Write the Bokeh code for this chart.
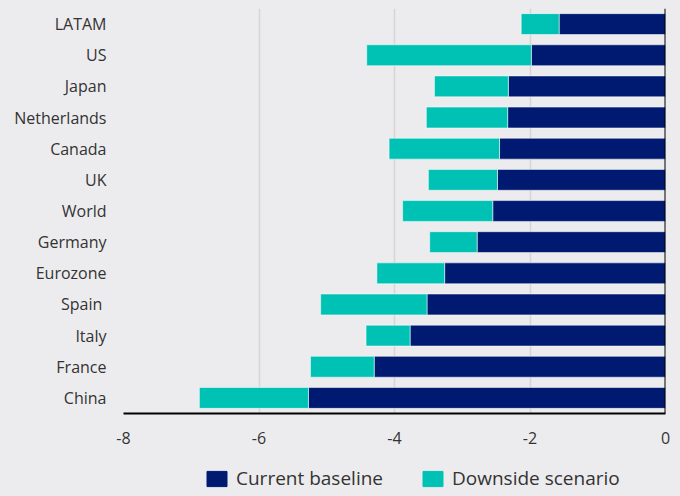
from bokeh.plotting import figure
from bokeh.layouts import column
from bokeh.models import ColumnDataSource, Legend, LegendItem, Span, FixedTicker, Range1d
from bokeh.embed import file_html
from bokeh.resources import INLINE

regions = ["LATAM", "US", "Japan", "Netherlands", "Canada", "UK", "World",
           "Germany", "Eurozone", "Spain ", "Italy", "France", "China"]
current_baseline = [-1.57, -1.98, -2.32, -2.33, -2.45, -2.48, -2.55,
                    -2.78, -3.26, -3.52, -3.77, -4.30, -5.27]
downside_scenario = [-2.13, -4.41, -3.41, -3.53, -4.08, -3.50, -3.88,
                     -3.48, -4.26, -5.09, -4.42, -5.24, -6.88]
series_names = ["Current baseline", "Downside scenario"]
x_ticks = [-8, -6, -4, -2, 0]
x_tick_labels = ["-8", "-6", "-4", "-2", "0"]

NAVY = "#001a72"
TEAL = "#00c2b4"
BG = "#ececee"
TEXT = "#333333"
FONT = "Open Sans"

src = ColumnDataSource(dict(
    region=regions,
    base=current_baseline,
    down=downside_scenario,
    zero=[0] * len(regions),
))

p = figure(width=680, height=458, output_backend="svg", toolbar_location=None,
           y_range=list(reversed(regions)), x_range=(-8, 0),
           min_border_left=123, min_border_right=15, min_border_top=8,
           min_border_bottom=45)
p.background_fill_color = BG
p.border_fill_color = BG
p.outline_line_color = None

p.hbar(y="region", left="base", right="zero", height=0.67, source=src,
       fill_color=NAVY, line_color="white", line_alpha=0.5, line_width=1)
p.hbar(y="region", left="down", right="base", height=0.67, source=src,
       fill_color=TEAL, line_color="white", line_alpha=0.5, line_width=1)

# grid
p.ygrid.grid_line_color = None
p.xgrid.grid_line_color = "#d6d6d8"
p.xgrid.grid_line_width = 1.5
p.xgrid.ticker = FixedTicker(ticks=x_ticks)

# x axis
p.xaxis.ticker = FixedTicker(ticks=x_ticks)
p.xaxis.major_label_overrides = {t: s for t, s in zip(x_ticks, x_tick_labels)}
p.xaxis.axis_line_color = "black"
p.xaxis.axis_line_width = 2
p.xaxis.major_tick_line_color = None
p.xaxis.minor_tick_line_color = None
p.xaxis.major_label_standoff = 12
p.xaxis.major_label_text_font = FONT
p.xaxis.major_label_text_font_size = "16px"
p.xaxis.major_label_text_color = TEXT

# y axis
p.yaxis.axis_line_color = None
p.yaxis.major_tick_line_color = None
p.yaxis.minor_tick_line_color = None
p.yaxis.major_label_standoff = 11
p.yaxis.major_label_text_font = FONT
p.yaxis.major_label_text_font_size = "16px"
p.yaxis.major_label_text_color = TEXT

# vertical axis line at zero
p.add_layout(Span(location=0, dimension="height", line_color="black", line_width=2))

# legend strip (same frame as the chart); its glyphs lie outside its visible range
lg = figure(width=680, height=38, output_backend="svg", toolbar_location=None,
            x_range=Range1d(-8, 0), y_range=Range1d(10, 11),
            min_border_left=123, min_border_right=15, min_border_top=0, min_border_bottom=0)
lg.axis.visible = False
lg.grid.visible = False
lg.background_fill_color = BG
lg.border_fill_color = BG
lg.outline_line_color = None
r1 = lg.hbar(y="zero", left="base", right="zero", height=0.5, source=src,
             fill_color=NAVY, line_color=NAVY)
r2 = lg.hbar(y="zero", left="down", right="base", height=0.5, source=src,
             fill_color=TEAL, line_color=TEAL)
legend = Legend(items=[LegendItem(label=series_names[0], renderers=[r1]),
                       LegendItem(label=series_names[1], renderers=[r2])],
                orientation="horizontal", location=(81, 5),
                background_fill_alpha=0, border_line_color=None,
                padding=0, margin=0, spacing=37, label_standoff=7,
                glyph_width=25, glyph_height=19, label_height=19,
                label_text_font=FONT, label_text_font_size="19px",
                label_text_color=TEXT)
lg.add_layout(legend, "center")

layout = column(p, lg, spacing=0)
layout.styles = {"background-color": BG}
open("out.html", "w").write(file_html(layout, INLINE))
